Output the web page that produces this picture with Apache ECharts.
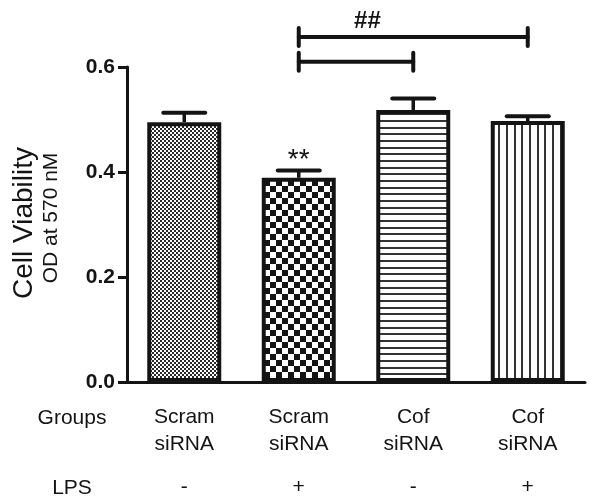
<!DOCTYPE html>
<html>
<head>
<meta charset="utf-8">
<script src="https://cdn.jsdelivr.net/npm/echarts@6/dist/echarts.min.js"></script>
<style>
html,body{margin:0;padding:0;background:#fff;}
#chart{width:600px;height:501px;}
</style>
</head>
<body>
<div id="chart"></div>
<script>
// ---- data ----
const groups = ['Scram\nsiRNA', 'Scram\nsiRNA', 'Cof\nsiRNA', 'Cof\nsiRNA'];
const lps = ['-', '+', '-', '+'];
const viability = [0.495, 0.389, 0.518, 0.497];
const sem = [0.018, 0.014, 0.022, 0.009];
const sigMarks = ['', '**', '', ''];
const bracketFrom = [1, 1];
const bracketTo = [3, 2];
const bracketLevel = [0.657, 0.610];
const bracketLabel = ['##', ''];

// ---- patterns ----
const INK = '#141414';
function mk(w, h, draw) {
  const c = document.createElement('canvas');
  c.width = w; c.height = h;
  const g = c.getContext('2d');
  g.fillStyle = '#fff'; g.fillRect(0, 0, w, h);
  g.fillStyle = INK;
  draw(g);
  return { image: c, repeat: 'repeat' };
}
const patFine = mk(4, 4, g => { g.fillStyle = '#2a2a2a'; g.fillRect(0, 0, 2, 2); g.fillRect(2, 2, 2, 2); });
const patCoarse = mk(12, 12, g => { g.fillRect(0, 0, 6, 6); g.fillRect(6, 6, 6, 6); });
const patHoriz = mk(4, 20, g => { g.fillStyle = '#333'; g.fillRect(0, 0, 4, 2); g.fillRect(0, 7, 4, 2); g.fillRect(0, 13, 4, 2); });
const patVert = mk(23, 4, g => { g.fillStyle = '#333'; g.fillRect(0, 0, 2, 4); g.fillRect(8, 0, 2, 4); g.fillRect(15, 0, 2, 4); });
const patterns = [patFine, patCoarse, patHoriz, patVert];

const FONT = '"Liberation Sans", Arial, sans-serif';
const chart = echarts.init(document.getElementById('chart'), null, { renderer: 'canvas' });

chart.setOption({
  animation: false,
  backgroundColor: '#fff',
  grid: { left: 127, right: 15, top: 67, bottom: 119, containLabel: false },
  xAxis: {
    type: 'category',
    data: groups,
    axisLine: { lineStyle: { color: INK, width: 3 } },
    axisTick: { alignWithLabel: true, length: 10, lineStyle: { color: INK, width: 3 } },
    axisLabel: {
      interval: 0,
      margin: 22,
      formatter: (v, i) => {
        const parts = v.split('\n');
        return `{a|${parts[0]}}\n{a|${parts[1]}}\n{b|${lps[i]}}`;
      },
      rich: {
        a: { fontSize: 21, lineHeight: 27, fontFamily: FONT, color: INK },
        b: { fontSize: 21, lineHeight: 59, fontFamily: FONT, color: INK }
      }
    }
  },
  yAxis: {
    type: 'value',
    min: 0, max: 0.6, interval: 0.2,
    splitLine: { show: false },
    axisLine: { show: true, lineStyle: { color: INK, width: 3 } },
    axisTick: { show: true, length: 9, lineStyle: { color: INK, width: 3 } },
    axisLabel: {
      margin: 12, fontSize: 21, fontWeight: 'bold', fontFamily: FONT, color: INK,
      formatter: v => v.toFixed(1)
    }
  },
  graphic: [
    { type: 'text', x: 24, y: 223, rotation: Math.PI / 2,
      style: { text: 'Cell Viability', font: '28px ' + FONT, fill: INK, align: 'center', verticalAlign: 'middle' } },
    { type: 'text', x: 51, y: 218, rotation: Math.PI / 2,
      style: { text: 'OD at 570 nM', font: '21px ' + FONT, fill: INK, align: 'center', verticalAlign: 'middle' } },
    { type: 'text', x: 72, y: 418,
      style: { text: 'Groups', font: '21px ' + FONT, fill: INK, align: 'center', verticalAlign: 'middle' } },
    { type: 'text', x: 72, y: 488,
      style: { text: 'LPS', font: '21px ' + FONT, fill: INK, align: 'center', verticalAlign: 'middle' } }
  ],
  series: [
    {
      type: 'bar',
      barWidth: 74,
      data: viability.map((v, i) => ({
        value: v,
        itemStyle: { color: patterns[i], borderColor: INK, borderWidth: 4 }
      })),
      z: 2
    },
    {
      type: 'custom',
      z: 3,
      clip: false,
      data: viability.map((v, i) => [i, v, sem[i]]),
      renderItem: (params, api) => {
        const i = api.value(0), v = api.value(1), e = api.value(2);
        const p0 = api.coord([i, v]);
        const p1 = api.coord([i, v + e]);
        const children = [
          { type: 'line', shape: { x1: p0[0], y1: p0[1], x2: p1[0], y2: p1[1] }, style: { stroke: INK, lineWidth: 3.5 } },
          { type: 'line', shape: { x1: p1[0] - 21, y1: p1[1], x2: p1[0] + 21, y2: p1[1] }, style: { stroke: INK, lineWidth: 4, lineCap: 'round' } }
        ];
        const s = sigMarks[params.dataIndex];
        if (s) {
          children.push({ type: 'text', x: p1[0], y: p1[1] - 10,
            style: { text: s, font: '28px ' + FONT, fill: INK, align: 'center', verticalAlign: 'middle' } });
        }
        return { type: 'group', children };
      }
    },
    {
      type: 'custom',
      z: 3,
      clip: false,
      data: bracketFrom.map((f, i) => [f, bracketTo[i], bracketLevel[i]]),
      renderItem: (params, api) => {
        const a = api.coord([api.value(0), api.value(2)]);
        const b = api.coord([api.value(1), api.value(2)]);
        const st = { stroke: INK, lineWidth: 4, lineCap: 'round' };
        const children = [
          { type: 'line', shape: { x1: a[0], y1: a[1], x2: b[0], y2: b[1] }, style: st },
          { type: 'line', shape: { x1: a[0], y1: a[1] - 9, x2: a[0], y2: a[1] + 9 }, style: st },
          { type: 'line', shape: { x1: b[0], y1: b[1] - 9, x2: b[0], y2: b[1] + 9 }, style: st }
        ];
        const lab = bracketLabel[params.dataIndex];
        if (lab) {
          children.push({ type: 'text', x: a[0] + (b[0] - a[0]) * 0.3, y: a[1] - 16,
            style: { text: lab, font: 'bold 24px ' + FONT, fill: INK, align: 'center', verticalAlign: 'middle' } });
        }
        return { type: 'group', children };
      }
    }
  ]
});
</script>
</body>
</html>
